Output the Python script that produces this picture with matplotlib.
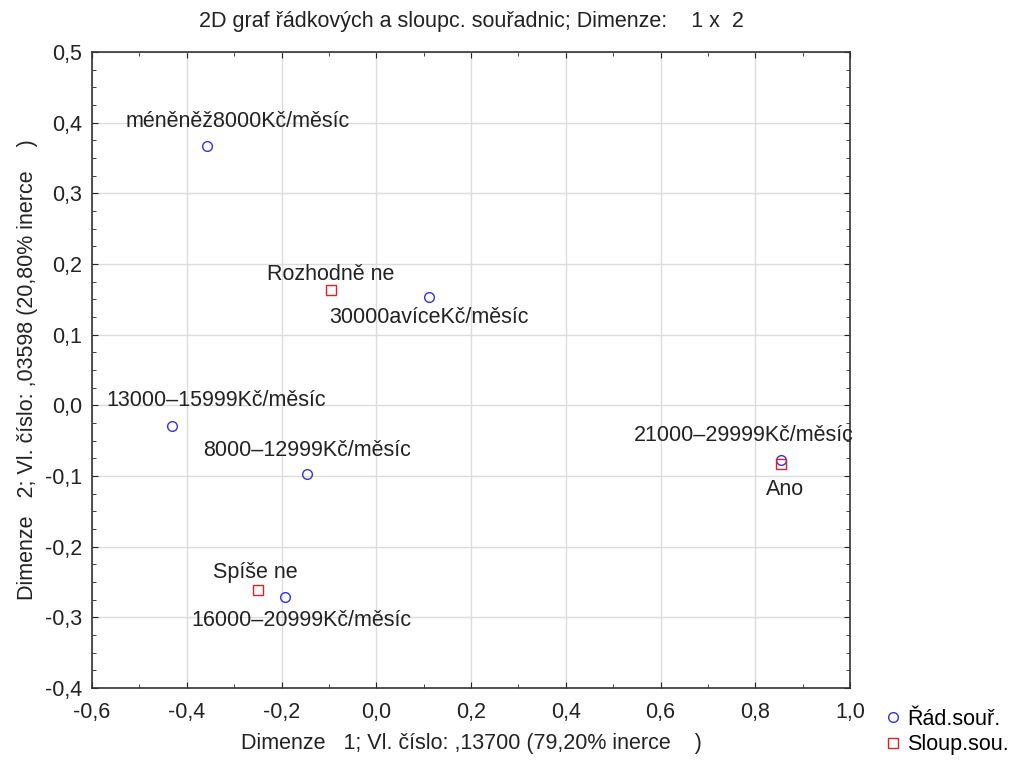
import numpy as np
import matplotlib.pyplot as plt
from matplotlib.ticker import MultipleLocator, FuncFormatter

plt.rcParams['font.family'] = ['Liberation Sans', 'DejaVu Sans']

# Řádkové souřadnice (příjem)
rad_labels = ["méněněž8000Kč/měsíc", "30000avíceKč/měsíc", "13000–15999Kč/měsíc",
              "8000–12999Kč/měsíc", "21000–29999Kč/měsíc", "16000–20999Kč/měsíc"]
rad_x = [-0.357, 0.111, -0.431, -0.146, 0.854, -0.193]
rad_y = [0.367, 0.153, -0.029, -0.097, -0.077, -0.271]

# Sloupcové souřadnice (odpověď)
sl_labels = ["Rozhodně ne", "Ano", "Spíše ne"]
sl_x = [-0.096, 0.854, -0.250]
sl_y = [0.163, -0.083, -0.261]

# posun popisků v pixelech
rad_off = [(31, 24), (0, -20), (44, 25), (0, 23), (-37, 24), (17, -24)]
sl_off = [(0, 16), (4, -26), (-3, 17)]

FS = 15.5
TXT = '#222222'

fig = plt.figure(figsize=(10.22, 7.6), dpi=100)
ax = fig.add_axes([92/1022, 72/760, 758/1022, 636/760])

ax.plot(rad_x, rad_y, 'o', ms=7, mfc='none', mec='#3333dd', mew=1.0, label="Řád.souř.", zorder=3)
ax.plot(sl_x, sl_y, 's', ms=7, mfc='none', mec='#dd2222', mew=1.0, label="Sloup.sou.", zorder=3)

for lab, x, y, off in zip(rad_labels, rad_x, rad_y, rad_off):
    ax.annotate(lab, (x, y), xytext=off, textcoords='offset pixels',
                ha='center', va='center', fontsize=FS, color=TXT)
for lab, x, y, off in zip(sl_labels, sl_x, sl_y, sl_off):
    ax.annotate(lab, (x, y), xytext=off, textcoords='offset pixels',
                ha='center', va='center', fontsize=FS, color=TXT)

ax.set_xlim(-0.6, 1.0)
ax.set_ylim(-0.4, 0.5)
ax.xaxis.set_major_locator(MultipleLocator(0.2))
ax.xaxis.set_minor_locator(MultipleLocator(0.1))
ax.yaxis.set_major_locator(MultipleLocator(0.1))
ax.yaxis.set_minor_locator(MultipleLocator(0.025))
fmt = FuncFormatter(lambda v, p: f"{v:.1f}".replace('.', ',').replace('-0,0', '0,0'))
ax.xaxis.set_major_formatter(fmt)
ax.yaxis.set_major_formatter(fmt)
ax.tick_params(which='both', direction='in', top=True, right=True, labelsize=FS, colors=TXT)
ax.tick_params(axis='x', which='major', length=4, pad=10)
ax.tick_params(axis='y', which='major', length=4, pad=7)
ax.tick_params(which='minor', length=3)
ax.grid(True, which='major', color='#dcdcdc', lw=1.0)
ax.set_axisbelow(True)
for s in ax.spines.values():
    s.set_color('#333333')
    s.set_linewidth(1.2)

ax.set_xlabel("Dimenze   1; Vl. číslo: ,13700 (79,20% inerce    )", fontsize=FS, color=TXT, labelpad=7)
ax.set_ylabel("Dimenze   2; Vl. číslo: ,03598 (20,80% inerce    )", fontsize=FS, color=TXT, labelpad=5)
ax.set_title("2D graf řádkových a sloupc. souřadnic; Dimenze:    1 x  2", fontsize=FS, color=TXT, pad=18)

fig.legend(*ax.get_legend_handles_labels(), loc='center left', bbox_to_anchor=(882/1022, 28/760),
           frameon=False, fontsize=FS, handletextpad=0.15, labelspacing=0.2,
           borderaxespad=0, borderpad=0, handlelength=1.0)

fig.savefig("out.png", dpi=100)
